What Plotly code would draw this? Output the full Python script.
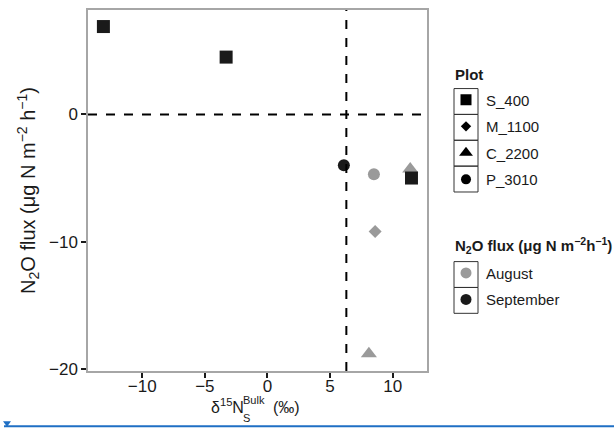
import plotly.graph_objects as go

# ---- data ----
plots = ["S_400", "M_1100", "C_2200", "P_3010"]
symbols = ["square", "diamond", "triangle-up", "circle"]
months = ["August", "September"]
month_colors = ["#9a9a9a", "#1a1a1a"]

aug_x = {"S_400": [], "M_1100": [8.6], "C_2200": [11.4, 8.1], "P_3010": [8.5]}
aug_y = {"S_400": [], "M_1100": [-9.2], "C_2200": [-4.3, -18.8], "P_3010": [-4.7]}
sep_x = {"S_400": [-13.1, -3.3, 11.5], "M_1100": [], "C_2200": [], "P_3010": [6.1]}
sep_y = {"S_400": [6.9, 4.5, -5.0], "M_1100": [], "C_2200": [], "P_3010": [-4.0]}

vline_x = 6.3
hline_y = 0
x_ticks = [-10, -5, 0, 5, 10]
y_ticks = [-20, -10, 0]
x_range = [-14.33, 12.74]
y_range = [-20.16, 8.2]

sizes = {"square": 13, "diamond": 10, "triangle-up": 14, "circle": 12}

FONT = "Liberation Sans, Arial, sans-serif"
W, H = 614, 429
L, R, T, B = 88, 427, 8, 371


def px(x):
    return (x - L) / (R - L)


def py(y):
    return (B - y) / (B - T)


fig = go.Figure()

for mi, (mx, my) in enumerate([(aug_x, aug_y), (sep_x, sep_y)]):
    for p, s in zip(plots, symbols):
        if not mx[p]:
            continue
        fig.add_trace(go.Scatter(
            x=mx[p], y=my[p], mode="markers", showlegend=False,
            marker=dict(symbol=s, size=sizes[s], color=month_colors[mi], line=dict(width=0)),
        ))

# legend-only traces
for i, (p, s) in enumerate(zip(plots, symbols)):
    fig.add_trace(go.Scatter(
        x=[None], y=[None], mode="markers", name=p, legend="legend",
        legendgroup="p%d" % i,
        marker=dict(symbol=s, size=sizes[s] - 2, color="#000000"),
    ))
for i, (m, c) in enumerate(zip(months, month_colors)):
    fig.add_trace(go.Scatter(
        x=[None], y=[None], mode="markers", name=m, legend="legend2",
        legendgroup="m%d" % i,
        marker=dict(symbol="circle", size=11, color=c),
    ))

shapes = [
    dict(type="line", xref="x", yref="paper", x0=vline_x, x1=vline_x, y0=0, y1=1,
         line=dict(color="black", width=2, dash="dash")),
    dict(type="line", xref="paper", yref="y", x0=0, x1=1, y0=hline_y, y1=hline_y,
         line=dict(color="black", width=2, dash="dash")),
]

# legend key boxes
bx0, bx1 = 454, 478
for y0 in [87, 113, 139, 165]:
    shapes.append(dict(type="rect", xref="paper", yref="paper", x0=px(bx0), x1=px(bx1),
                       y0=py(y0 + 26), y1=py(y0), line=dict(color="#333333", width=1), layer="below"))
for y0 in [261, 287]:
    shapes.append(dict(type="rect", xref="paper", yref="paper", x0=px(bx0), x1=px(bx1),
                       y0=py(y0 + 26), y1=py(y0), line=dict(color="#333333", width=1), layer="below"))

# page artifact: blue line at bottom
shapes.append(dict(type="line", xref="paper", yref="paper", x0=px(4), x1=px(614),
                   y0=py(426.5), y1=py(426.5), line=dict(color="#1f6fc4", width=2)))
shapes.append(dict(type="path", xref="paper", yref="paper",
                   path="M %f %f L %f %f L %f %f Z" % (px(3), py(421.5), px(11), py(421.5), px(7), py(427)),
                   fillcolor="#1f6fc4", line=dict(width=0)))

annotations = [
    # x-axis title, built in pieces so sub/superscript stack
    dict(text="δ<sup>15</sup>N", xref="paper", yref="paper", x=px(246), y=py(406),
         xanchor="right", yanchor="middle", showarrow=False, font=dict(size=16)),
    dict(text="S", xref="paper", yref="paper", x=px(241), y=py(418),
         xanchor="left", yanchor="middle", showarrow=False, font=dict(size=11)),
    dict(text="Bulk", xref="paper", yref="paper", x=px(241), y=py(400),
         xanchor="left", yanchor="middle", showarrow=False, font=dict(size=11)),
    dict(text="(‰)", xref="paper", yref="paper", x=px(271), y=py(408),
         xanchor="left", yanchor="middle", showarrow=False, font=dict(size=16)),
    # legend titles
    dict(text="<b>Plot</b>", xref="paper", yref="paper", x=px(453), y=py(73),
         xanchor="left", yanchor="middle", showarrow=False, font=dict(size=15)),
    dict(text="<b>N<sub>2</sub>O flux (μg N m<sup>−2</sup>h<sup>−1</sup>)</b>", xref="paper", yref="paper",
         x=px(453), y=py(245), xanchor="left", yanchor="middle", showarrow=False, font=dict(size=15)),
]

fig.update_layout(
    width=W, height=H,
    margin=dict(l=L, r=W - R, t=T, b=H - B),
    paper_bgcolor="white", plot_bgcolor="white",
    font=dict(family=FONT, color="#1a1a1a"),
    shapes=shapes,
    annotations=annotations,
    xaxis=dict(range=x_range, tickvals=x_ticks, ticks="outside", ticklen=5, tickwidth=2,
               tickcolor="#1a1a1a", showgrid=False, zeroline=False, showline=True, mirror=True,
               linecolor="#a6a6a6", linewidth=1.5, tickfont=dict(size=17), ticklabelstandoff=-6),
    yaxis=dict(range=y_range, tickvals=y_ticks, ticks="outside", ticklen=5, tickwidth=2,
               tickcolor="#1a1a1a", showgrid=False, zeroline=False, showline=True, mirror=True,
               linecolor="#a6a6a6", linewidth=1.5, tickfont=dict(size=17),
               title=dict(text="N<sub>2</sub>O flux (μg N m<sup>−2</sup> h<sup>−1</sup>)", font=dict(size=20), standoff=8)),
    legend=dict(x=px(446), y=py(82), xanchor="left", yanchor="top",
                font=dict(size=15), tracegroupgap=4, bgcolor="rgba(0,0,0,0)"),
    legend2=dict(x=px(446), y=py(256), xanchor="left", yanchor="top",
                 font=dict(size=15), tracegroupgap=4, bgcolor="rgba(0,0,0,0)"),
)

fig.write_html("out.html", config={"displayModeBar": False},
               post_script="document.body.style.margin='0';")
